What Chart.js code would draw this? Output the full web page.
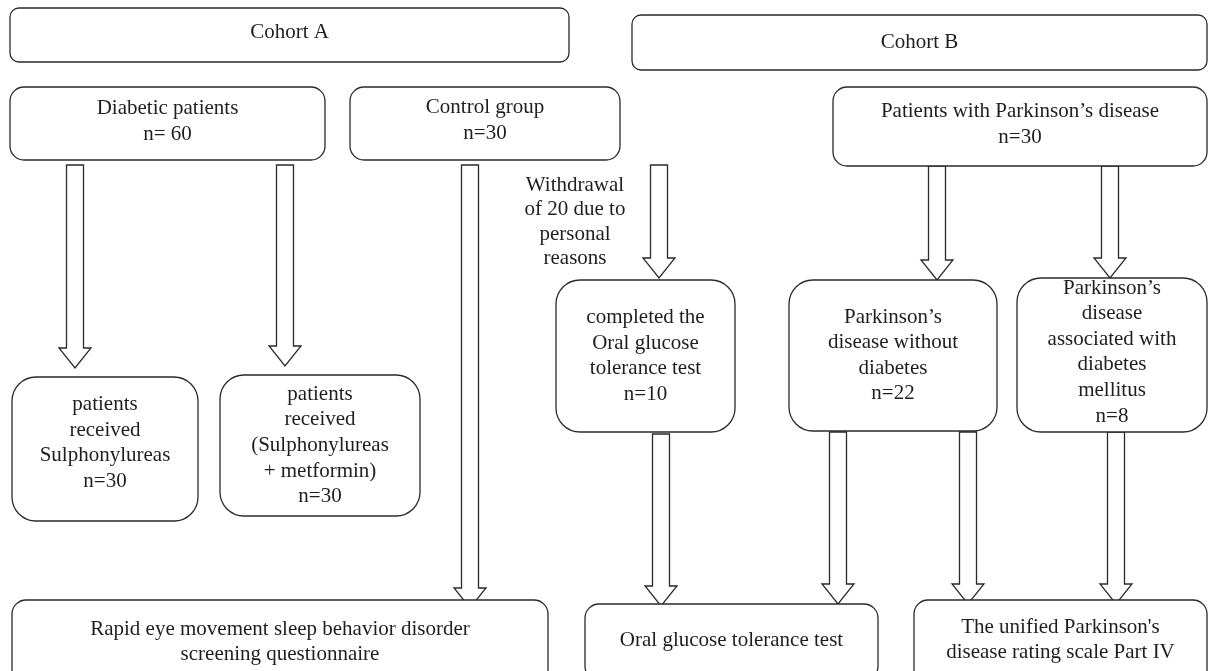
<!DOCTYPE html>
<html>
<head>
<meta charset="utf-8">
<script src="https://cdn.jsdelivr.net/npm/chart.js@4.4.1/dist/chart.umd.min.js"></script>
<style>
    html, body { margin: 0; padding: 0; background: #fff; }
    #flow { display: block; }
</style>
</head>
<body>
<canvas id="flow" width="1218" height="671"></canvas>
<script>
// flowchart content: one entry per box
const boxLabels = [
    ["Cohort A"],
    ["Cohort B"],
    ["Diabetic patients", "n= 60"],
    ["Control group", "n=30"],
    ["Patients with Parkinson\u2019s disease", "n=30"],
    ["patients", "received", "Sulphonylureas", "n=30"],
    ["patients", "received", "(Sulphonylureas", "+ metformin)", "n=30"],
    ["completed the", "Oral glucose", "tolerance test", "n=10"],
    ["Parkinson\u2019s", "disease without", "diabetes", "n=22"],
    ["Parkinson\u2019s", "disease", "associated with", "diabetes", "mellitus", "n=8"],
    ["Rapid eye movement sleep behavior disorder", "screening questionnaire"],
    ["Oral glucose tolerance test"],
    ["The unified Parkinson's", "disease rating scale Part IV"]
];
const boxXRange = [[10, 569], [632, 1207], [10, 325], [350, 620], [833, 1207], [12, 198], [220, 420], [556, 735], [789, 997], [1017, 1207], [12, 548], [585, 878], [914, 1207]];
const boxYRange = [[8, 62], [15, 70], [87, 160], [87, 160], [87, 166], [377, 521], [375, 516], [280, 432], [280, 431], [278, 432], [600, 684], [604, 680], [600, 684]];
// text block nudged up where the original sits above the box middle
const boxTextShift = [-3, 0, -2, -3, -2, -6, 0, 0, 0, -3, 0, -2, -2];

// free text beside the control-group arrow
const noteLines = ["Withdrawal", "of 20 due to", "personal", "reasons"];
const notePos = [575, 222];

// arrows: centre x, start y, tip y
const arrowX = [75, 285, 470, 659, 937, 1110, 661, 838, 968, 1116];
const arrowTop = [165, 165, 165, 165, 166, 166, 434, 432, 432, 432];
const arrowTip = [368, 366, 608, 278, 280, 278, 606, 604, 604, 604];

const INK = "#2a2a2a";
const TEXT = "#1e1e1e";
const FONT = "21px 'Liberation Serif', 'DejaVu Serif', serif";
const LINE_H = 25.6;

function cornerFor(h) {
    if (h < 60) return 9;
    if (h < 90) return 14;
    return 24;
}

const flowPlugin = {
    id: "flow",
    afterDatasetsDraw(chart) {
        const { ctx, scales: { x, y } } = chart;
        ctx.save();
        ctx.lineWidth = 1.3;
        ctx.strokeStyle = INK;

        // arrows first, boxes on top
        arrowX.forEach((ax, i) => {
            const cx = x.getPixelForValue(ax);
            const top = y.getPixelForValue(arrowTop[i]);
            const tip = y.getPixelForValue(arrowTip[i]);
            const shaft = 8.5;
            const head = 16;
            const neck = tip - 20;
            ctx.beginPath();
            ctx.moveTo(cx - shaft, top);
            ctx.lineTo(cx + shaft, top);
            ctx.lineTo(cx + shaft, neck);
            ctx.lineTo(cx + head, neck);
            ctx.lineTo(cx, tip);
            ctx.lineTo(cx - head, neck);
            ctx.lineTo(cx - shaft, neck);
            ctx.closePath();
            ctx.fillStyle = "#fff";
            ctx.fill();
            ctx.stroke();
        });

        ctx.font = FONT;
        ctx.textAlign = "center";
        ctx.textBaseline = "middle";

        boxLabels.forEach((lines, i) => {
            const x0 = x.getPixelForValue(boxXRange[i][0]);
            const x1 = x.getPixelForValue(boxXRange[i][1]);
            const y0 = y.getPixelForValue(boxYRange[i][0]);
            const y1 = y.getPixelForValue(boxYRange[i][1]);
            ctx.beginPath();
            ctx.roundRect(x0, y0, x1 - x0, y1 - y0, cornerFor(y1 - y0));
            ctx.fillStyle = "#fff";
            ctx.fill();
            ctx.stroke();

            const cx = (x0 + x1) / 2;
            const cy = (y0 + y1) / 2 + boxTextShift[i];
            const start = cy - (lines.length - 1) * LINE_H / 2;
            ctx.fillStyle = TEXT;
            lines.forEach((line, k) => {
                ctx.fillText(line, cx, start + k * LINE_H);
            });
        });

        const nx = x.getPixelForValue(notePos[0]);
        const ny = y.getPixelForValue(notePos[1]);
        noteLines.forEach((line, k) => {
            ctx.fillText(line, nx, ny + (k - (noteLines.length - 1) / 2) * 24.5);
        });

        ctx.restore();
    }
};

new Chart(document.getElementById("flow"), {
    type: "scatter",
    data: {
        datasets: [{
            data: boxXRange.map((r, i) => ({ x: (r[0] + r[1]) / 2, y: (boxYRange[i][0] + boxYRange[i][1]) / 2 })),
            pointRadius: 0
        }]
    },
    options: {
        responsive: false,
        devicePixelRatio: 1,
        animation: false,
        layout: { padding: 0 },
        scales: {
            x: { type: "linear", min: 0, max: 1218, display: false },
            y: { type: "linear", min: 0, max: 671, reverse: true, display: false }
        },
        plugins: {
            legend: { display: false },
            tooltip: { enabled: false }
        }
    },
    plugins: [flowPlugin]
});
</script>
</body>
</html>
